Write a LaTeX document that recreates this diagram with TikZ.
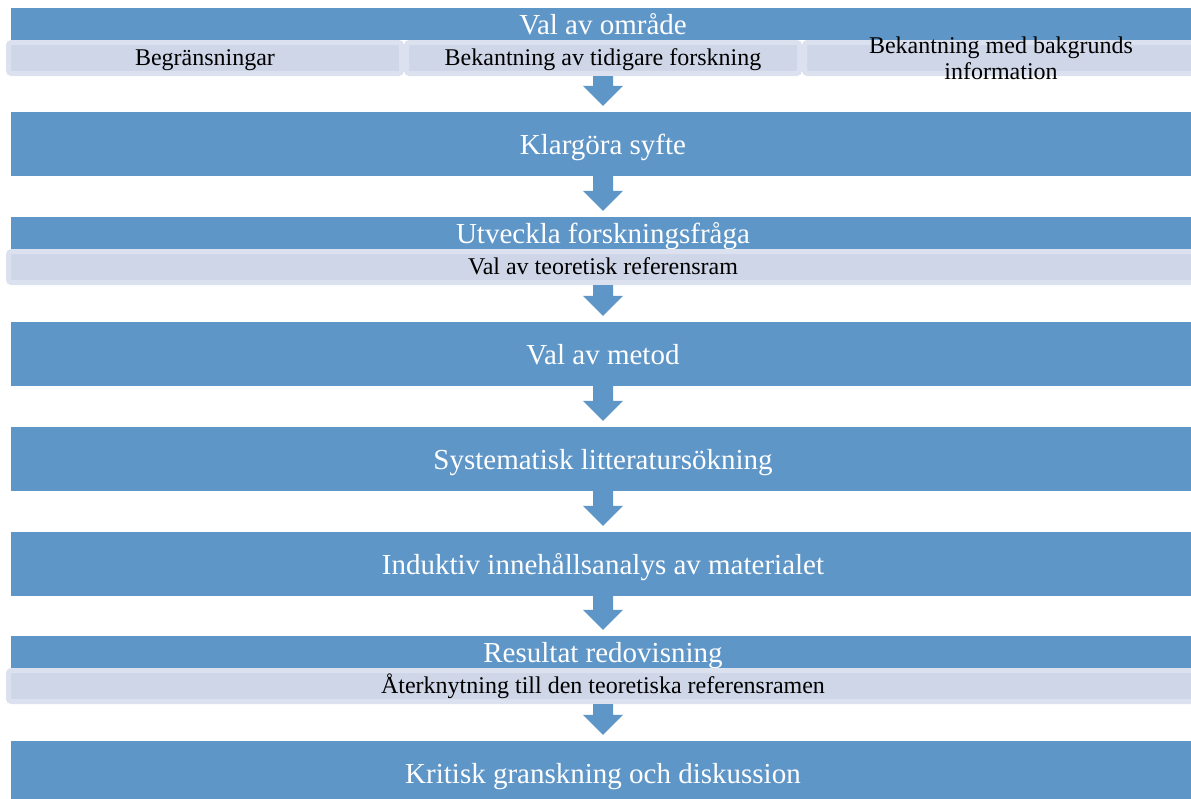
\documentclass[tikz,border=0pt]{standalone}
\usepackage{fontspec}
\setmainfont{Liberation Serif}
\usetikzlibrary{calc}
\definecolor{barblue}{RGB}{95,150,200}
\definecolor{subfill}{RGB}{206,214,232}
\definecolor{subedge}{RGB}{219,225,239}
\tikzset{
  bar/.style={fill=barblue, text=white, inner sep=0pt, minimum width=1184pt,
    font=\fontsize{29}{34}\selectfont, text height=20pt, text depth=0pt},
  bigbar/.style={bar, minimum height=64pt},
  thinbar/.style={bar, minimum height=32pt},
  subbox/.style={fill=subfill, draw=subedge, line width=5pt, rounded corners=3pt,
    inner sep=0pt, minimum height=31pt, text=black,
    font=\fontsize{24}{26}\selectfont, text height=14pt, text depth=0pt},
}
\newcommand\flowarrow[2]{%
  \fill[barblue] ($(#1.south)+(-10,0)$) -- ($(#2.north)+(-10,-26)$)
    -- ($(#2.north)+(-20,-26)$) -- ($(#2.north)+(0,-6)$)
    -- ($(#2.north)+(20,-26)$) -- ($(#2.north)+(10,-26)$)
    -- ($(#1.south)+(10,0)$) -- cycle;}
\begin{document}
\begin{tikzpicture}[x=1pt,y=-1pt]
\useasboundingbox (0,0) rectangle (1191,798);
\fill[white] (0,0) rectangle (1191,798);
\clip (0,0) rectangle (1191,798);

\node[thinbar] (b1) at (603,24) {Val av område};
\node[subbox, minimum width=393pt] (s1a) at (205,58) {Begränsningar};
\node[subbox, minimum width=393pt] (s1b) at (603,58) {Bekantning av tidigare forskning};
\node[subbox, minimum width=393pt] (s1c) at (1001,58)
  {\raisebox{12pt}{\smash{\begin{tabular}[t]{@{}c@{}}Bekantning med bakgrunds\\information\end{tabular}}}};

\node[bigbar] (b2) at (603,144) {Klargöra syfte};

\node[thinbar] (b3) at (603,233) {Utveckla forskningsfråga};
\node[subbox, minimum width=1189pt] (s3) at (603,267) {Val av teoretisk referensram};

\node[bigbar] (b4) at (603,354) {Val av metod};
\node[bigbar] (b5) at (603,459) {Systematisk litteratursökning};
\node[bigbar] (b6) at (603,564) {Induktiv innehållsanalys av materialet};

\node[thinbar] (b7) at (603,652) {Resultat redovisning};
\node[subbox, minimum width=1189pt] (s7) at (603,686) {Återknytning till den teoretiska referensramen};

\node[bigbar] (b8) at (603,773) {Kritisk granskning och diskussion};

\flowarrow{s1b}{b2}
\flowarrow{b2}{b3}
\flowarrow{s3}{b4}
\flowarrow{b4}{b5}
\flowarrow{b5}{b6}
\flowarrow{b6}{b7}
\flowarrow{s7}{b8}
\end{tikzpicture}
\end{document}
